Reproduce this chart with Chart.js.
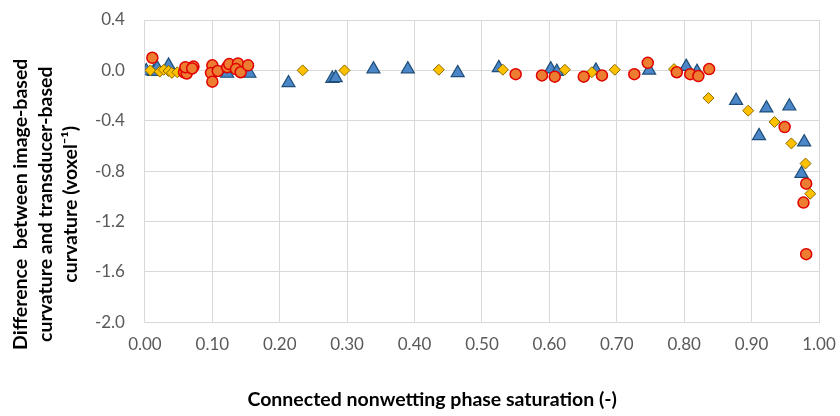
<!DOCTYPE html>
<html>
<head>
<meta charset="utf-8">
<script src="https://cdn.jsdelivr.net/npm/chart.js@4"></script>
<style>
  html, body { margin: 0; padding: 0; background: #fff; }
  #wrap { width: 840px; height: 416px; }
</style>
</head>
<body>
<div id="wrap"><canvas id="myChart" width="840" height="416"></canvas></div>
<script>
// red circles
const redSat  = [0.011, 0.058, 0.062, 0.060, 0.072, 0.070, 0.100, 0.098, 0.100, 0.108, 0.122, 0.125, 0.138, 0.135, 0.142, 0.153,
                 0.550, 0.589, 0.608, 0.651, 0.678, 0.726, 0.746, 0.789, 0.809, 0.821, 0.837, 0.949, 0.981, 0.977, 0.981];
const redDiff = [0.10, -0.015, -0.025, 0.025, 0.03, 0.015, 0.04, -0.02, -0.09, -0.005, 0.025, 0.05, 0.055, 0.01, -0.015, 0.04,
                 -0.03, -0.04, -0.05, -0.05, -0.04, -0.03, 0.06, -0.015, -0.03, -0.045, 0.01, -0.45, -0.90, -1.05, -1.46];

// gold diamonds
const goldSat  = [0.008, 0.022, 0.028, 0.035, 0.040, 0.048, 0.234, 0.296, 0.436, 0.531, 0.623, 0.663, 0.697, 0.785,
                  0.836, 0.895, 0.934, 0.959, 0.980, 0.987];
const goldDiff = [0.0, -0.01, 0.005, -0.005, -0.02, -0.015, 0.0, 0.0, 0.005, 0.005, 0.005, -0.015, 0.005, 0.01,
                  -0.22, -0.32, -0.41, -0.58, -0.74, -0.98];

// blue triangles
const blueSat  = [0.002, 0.013, 0.018, 0.035, 0.122, 0.155, 0.213, 0.278, 0.283, 0.339, 0.390, 0.464, 0.525, 0.602, 0.611,
                  0.669, 0.748, 0.803, 0.819, 0.877, 0.911, 0.922, 0.956, 0.978, 0.974];
const blueDiff = [-0.005, -0.01, 0.02, 0.04, -0.025, -0.025, -0.10, -0.065, -0.06, 0.01, 0.01, -0.02, 0.02, 0.01, -0.01,
                  0.0, 0.0, 0.03, -0.01, -0.24, -0.52, -0.30, -0.285, -0.57, -0.82];

const xTitle = 'Connected nonwetting phase saturation (-)';
const yTitle = ['Difference  between image-based', 'curvature and transducer-based', 'curvature (voxel\u207B\u00B9)'];

function toPoints(xs, ys) {
  return xs.map((x, i) => ({ x: x, y: ys[i] }));
}

// trailing spaces shift the titles off the plot centre, like the original
const padXTitle = xTitle + ' '.repeat(21);
const padYTitle = yTitle.map(s => s + ' '.repeat(14));

const ctx = document.getElementById('myChart').getContext('2d');
const myChart = new Chart(ctx, {
  type: 'scatter',
  data: {
    datasets: [{
      label: 'circles',
      data: toPoints(redSat, redDiff),
      pointStyle: 'circle',
      pointRadius: 5.5,
      backgroundColor: '#ED7D31',
      borderColor: '#E00000',
      borderWidth: 1.5
    }, {
      label: 'diamonds',
      data: toPoints(goldSat, goldDiff),
      pointStyle: 'rectRot',
      pointRadius: 5.5,
      backgroundColor: '#FFC000',
      borderColor: '#8C6B00',
      borderWidth: 1
    }, {
      label: 'triangles',
      data: toPoints(blueSat, blueDiff),
      pointStyle: 'triangle',
      pointRadius: 7.5,
      backgroundColor: '#4A86C8',
      borderColor: '#1F4E79',
      borderWidth: 1.2
    }]
  },
  options: {
    responsive: false,
    animation: false,
    layout: { padding: { left: 8, right: 21, top: 20, bottom: 5 } },
    plugins: {
      legend: { display: false },
      tooltip: { enabled: false }
    },
    scales: {
      x: {
        type: 'linear',
        min: 0,
        max: 1,
        ticks: {
          stepSize: 0.1,
          padding: 0,
          color: '#595959',
          font: { family: 'Lato', size: 17 },
          callback: v => v.toFixed(2)
        },
        grid: { color: '#d9d9d9', drawTicks: true, tickLength: 12, tickColor: 'rgba(0,0,0,0)' },
        border: { color: '#d9d9d9' },
        title: {
          display: true,
          text: padXTitle,
          color: '#000',
          font: { family: 'Lato', size: 19.5, weight: 'bold' },
          padding: { top: 33, bottom: 0 }
        }
      },
      y: {
        type: 'linear',
        min: -2,
        max: 0.4,
        ticks: {
          stepSize: 0.4,
          padding: 0,
          color: '#595959',
          font: { family: 'Lato', size: 17 },
          callback: v => (Math.abs(v) < 1e-9 ? 0 : v).toFixed(1)
        },
        grid: { color: '#d9d9d9', drawTicks: true, tickLength: 20, tickColor: 'rgba(0,0,0,0)' },
        border: { color: '#d9d9d9' },
        title: {
          display: true,
          text: padYTitle,
          color: '#000',
          font: { family: 'Lato', size: 19.5, weight: 'bold', lineHeight: 1.28 },
          padding: { top: 0, bottom: 12 }
        }
      }
    }
  }
});
</script>
</body>
</html>
